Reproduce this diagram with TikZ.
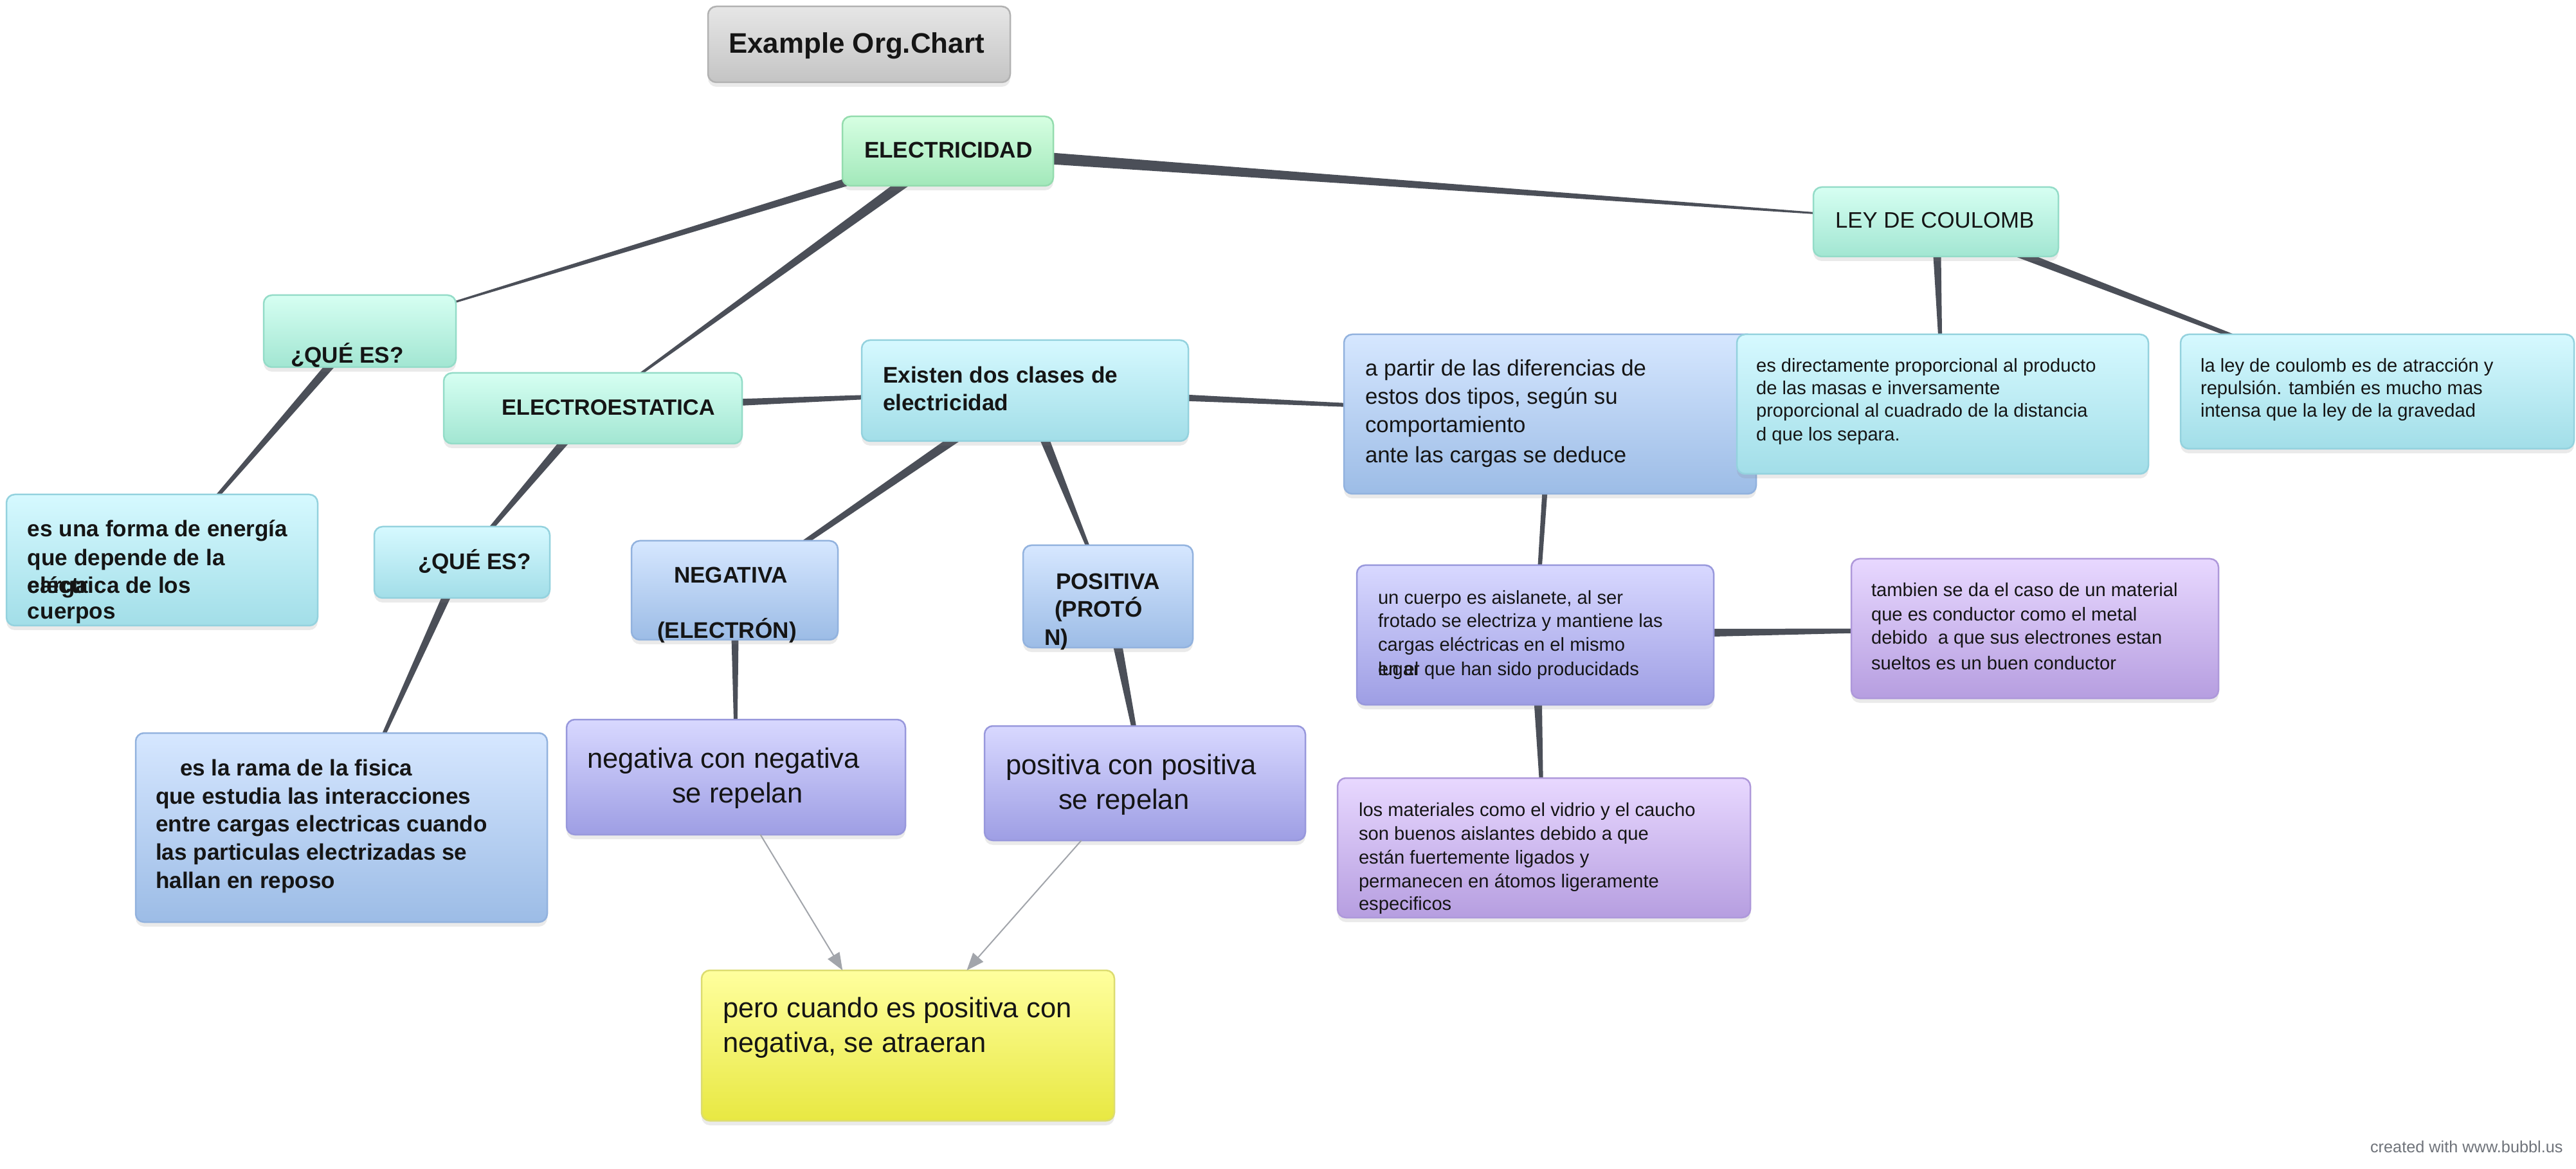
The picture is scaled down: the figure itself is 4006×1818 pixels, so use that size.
\documentclass[tikz,border=0pt]{standalone}
\usepackage{fontspec}
\setmainfont{Liberation Sans}
\usetikzlibrary{calc,fit,shadows,backgrounds,arrows.meta}
\definecolor{conncol}{HTML}{4B4F58}
\definecolor{arrcol}{HTML}{A2A5AB}
\definecolor{grayT}{HTML}{E6E6E6}\definecolor{grayB}{HTML}{C4C4C4}\definecolor{grayD}{HTML}{B2B2B2}
\definecolor{greenT}{HTML}{D6FFE2}\definecolor{greenB}{HTML}{A2E8BA}\definecolor{greenD}{HTML}{94DCAE}
\definecolor{mintT}{HTML}{D6FFF2}\definecolor{mintB}{HTML}{A2E6D2}\definecolor{mintD}{HTML}{94DCC8}
\definecolor{cyanT}{HTML}{D6F9FF}\definecolor{cyanB}{HTML}{A2DEE8}\definecolor{cyanD}{HTML}{94D2DE}
\definecolor{blueT}{HTML}{D6E7FF}\definecolor{blueB}{HTML}{9CBCE6}\definecolor{blueD}{HTML}{92B2DE}
\definecolor{periT}{HTML}{D8D8FF}\definecolor{periB}{HTML}{9E9EE4}\definecolor{periD}{HTML}{9898DC}
\definecolor{purpT}{HTML}{E8D8FF}\definecolor{purpB}{HTML}{B69EE0}\definecolor{purpD}{HTML}{AE98DA}
\definecolor{yelT}{HTML}{FFFF9E}\definecolor{yelB}{HTML}{E8E842}\definecolor{yelD}{HTML}{DCDC70}
\definecolor{txtcol}{HTML}{151515}
\definecolor{credcol}{HTML}{6F737A}
\tikzset{
  box/.style={rectangle, rounded corners=1.3mm, line width=0.25mm, inner sep=0pt, outer sep=0pt,
    drop shadow={shadow xshift=0mm, shadow yshift=-0.7mm, opacity=0.16}},
  graybox/.style={box, draw=grayD, top color=grayT, bottom color=grayB},
  greenbox/.style={box, draw=greenD, top color=greenT, bottom color=greenB},
  mintbox/.style={box, draw=mintD, top color=mintT, bottom color=mintB},
  cyanbox/.style={box, draw=cyanD, top color=cyanT, bottom color=cyanB},
  bluebox/.style={box, draw=blueD, top color=blueT, bottom color=blueB},
  peribox/.style={box, draw=periD, top color=periT, bottom color=periB},
  purpbox/.style={box, draw=purpD, top color=purpT, bottom color=purpB},
  yelbox/.style={box, draw=yelD, top color=yelT, bottom color=yelB},
  txt/.style={inner sep=0pt, outer sep=0pt, anchor=base west, text=txtcol},
  fbA/.style={font=\fontsize{12.5}{15}\selectfont\bfseries},
  fbB/.style={font=\fontsize{10}{12}\selectfont\bfseries},
  fbC/.style={font=\fontsize{9.8}{12}\selectfont\bfseries},
  frB/.style={font=\fontsize{9.9}{12}\selectfont},
  frL/.style={font=\fontsize{12.4}{15}\selectfont},
  frS/.style={font=\fontsize{8.3}{10}\selectfont},
  frT/.style={font=\fontsize{7.2}{9}\selectfont, text=credcol},
  conn/.style={fill=conncol},
  arr/.style={draw=arrcol, line width=0.2mm, -{Triangle[length=2.7mm,width=2.1mm]}}
}
\newcommand\mkbox[4]{\node[#1, fit={(#3) (#4)}] (#2) {};}
\newcommand\mktext[4]{\node[txt,#1] (#2) at (#3) {#4};}
\newcommand\mktaper[4]{\fill[conn] ($(#1.center)!#3!90:(#2.center)$) -- ($(#1.center)!#3!-90:(#2.center)$) -- ($(#2.center)!#4!90:(#1.center)$) -- ($(#2.center)!#4!-90:(#1.center)$) -- cycle;}
\begin{document}
\begin{tikzpicture}[x=0.1mm,y=-0.1mm]
\useasboundingbox (0,0) rectangle (4006,1818);
% boxes
\mkbox{graybox}{title}{1101,10}{1571,128}
\mkbox{greenbox}{elec}{1310,181}{1638,289}
\mkbox{mintbox}{ley}{2820,291}{3201,399}
\mkbox{mintbox}{que1}{410,459}{709,571}
\mkbox{mintbox}{electro}{690,580}{1154,690}
\mkbox{cyanbox}{exist}{1340,529}{1848,686}
\mkbox{bluebox}{apartir}{2090,520}{2731,768}
\mkbox{cyanbox}{directa}{2701,520}{3341,737}
\mkbox{cyanbox}{laley}{3391,520}{4003,698}
\mkbox{cyanbox}{forma}{10,769}{494,973}
\mkbox{cyanbox}{que2}{582,819}{855,930}
\mkbox{bluebox}{neg}{982,841}{1303,995}
\mkbox{bluebox}{pos}{1591,848}{1855,1007}
\mkbox{bluebox}{rama}{211,1140}{851,1434}
\mkbox{peribox}{negneg}{881,1119}{1408,1298}
\mkbox{peribox}{pospos}{1531,1129}{2030,1307}
\mkbox{yelbox}{yellow}{1091,1509}{1733,1743}
\mkbox{peribox}{cuerpo}{2110,879}{2665,1096}
\mkbox{purpbox}{tambien}{2879,869}{3450,1086}
\mkbox{purpbox}{materia}{2080,1210}{2722,1427}
% connectors (behind the boxes)
\begin{scope}[on background layer]
\fill[white] (0,0) rectangle (4006,1818);
\mktaper{elec}{que1}{0.72mm}{0.05mm}
\mktaper{elec}{electro}{0.9mm}{0.09mm}
\mktaper{elec}{ley}{1.0mm}{0.03mm}
\mktaper{que1}{forma}{0.75mm}{0.12mm}
\mktaper{electro}{que2}{0.77mm}{0.22mm}
\mktaper{que2}{rama}{0.74mm}{0.06mm}
\mktaper{electro}{exist}{0.75mm}{0.1mm}
\mktaper{exist}{neg}{0.85mm}{0.25mm}
\mktaper{exist}{pos}{0.9mm}{0.1mm}
\mktaper{exist}{apartir}{0.7mm}{0.04mm}
\mktaper{neg}{negneg}{0.7mm}{0.11mm}
\mktaper{pos}{pospos}{0.9mm}{0.17mm}
\mktaper{apartir}{cuerpo}{0.48mm}{0.25mm}
\mktaper{cuerpo}{tambien}{0.93mm}{0.02mm}
\mktaper{cuerpo}{materia}{0.89mm}{0.02mm}
\mktaper{ley}{directa}{0.73mm}{0.04mm}
\mktaper{ley}{laley}{0.72mm}{0.12mm}
\end{scope}
% arrows
\draw[arr] (negneg.-67) -- (yellow.131);
\draw[arr] (pospos.-138) -- (yellow.52);
% texts
\mktext{fbA}{tTitle}{1133,83}{Example Org.Chart}
\mktext{fbB}{tElec}{1344,246}{ELECTRICIDAD}
\mktext{frB}{tLey}{2854,355}{LEY DE COULOMB}
\mktext{fbB}{tQue1}{452,565}{¿QUÉ ES?}
\mktext{fbC}{tElectro}{780,646}{ELECTROESTATICA}
\mktext{fbB}{tExA}{1373,596}{Existen dos clases de}
\mktext{fbB}{tExB}{1373,639}{electricidad}
\mktext{frB}{tApA}{2123,585}{a partir de las diferencias de}
\mktext{frB}{tApB}{2123,629}{estos dos tipos, según su}
\mktext{frB}{tApC}{2123,673}{comportamiento}
\mktext{frB}{tApD}{2123,720}{ante las cargas se deduce}
\mktext{frS}{tDiA}{2731,579}{es directamente proporcional al producto}
\mktext{frS}{tDiB}{2731,614}{de las masas e inversamente}
\mktext{frS}{tDiC}{2731,649}{proporcional al cuadrado de la distancia}
\mktext{frS}{tDiD}{2731,686}{d que los separa.}
\mktext{frS}{tLlA}{3422,579}{la ley de coulomb es de atracción y}
\mktext{frS}{tLlB}{3422,614}{repulsión. también es mucho mas}
\mktext{frS}{tLlC}{3422,649}{intensa que la ley de la gravedad}
\mktext{fbB}{tFoA}{43,835}{es una forma de energía}
\mktext{fbB}{tFoB}{43,880}{que depende de la}
\mktext{fbB}{tFoC}{43,923}{carga}
\mktext{fbB}{tFoD}{43,923}{eléctrica de los}
\mktext{fbB}{tFoE}{43,963}{cuerpos}
\mktext{fbB}{tQue2}{650,886}{¿QUÉ ES?}
\mktext{fbB}{tNegA}{1048,907}{NEGATIVA}
\mktext{fbB}{tNegB}{1022,993}{(ELECTRÓN)}
\mktext{fbB}{tPosA}{1642,917}{POSITIVA}
\mktext{fbB}{tPosB}{1640,960}{(PROTÓ}
\mktext{fbB}{tPosC}{1624,1003}{N)}
\mktext{fbB}{tRaA}{280,1206}{es la rama de la fisica}
\mktext{fbB}{tRaB}{242,1250}{que estudia las interacciones}
\mktext{fbB}{tRaC}{242,1293}{entre cargas electricas cuando}
\mktext{fbB}{tRaD}{242,1337}{las particulas electrizadas se}
\mktext{fbB}{tRaE}{242,1381}{hallan en reposo}
\mktext{frL}{tNnA}{913,1194}{negativa con negativa}
\mktext{frL}{tNnB}{1045,1248}{se repelan}
\mktext{frL}{tPpA}{1564,1204}{positiva con positiva}
\mktext{frL}{tPpB}{1646,1258}{se repelan}
\mktext{frL}{tYeA}{1124,1582}{pero cuando es positiva con}
\mktext{frL}{tYeB}{1124,1636}{negativa, se atraeran}
\mktext{frS}{tCuA}{2143,940}{un cuerpo es aislanete, al ser}
\mktext{frS}{tCuB}{2143,975}{frotado se electriza y mantiene las}
\mktext{frS}{tCuC}{2143,1012}{cargas eléctricas en el mismo}
\mktext{frS}{tCuD}{2143,1051}{lugar}
\mktext{frS}{tCuE}{2143,1051}{en el}
\mktext{frS}{tCuF}{2215,1051}{que han sido producidads}
\mktext{frS}{tTaA}{2910,928}{tambien se da el caso de un material}
\mktext{frS}{tTaB}{2910,965}{que es conductor como el metal}
\mktext{frS}{tTaC}{2910,1002}{debido\ \ a que sus electrones estan}
\mktext{frS}{tTaD}{2910,1041}{sueltos es un buen conductor}
\mktext{frS}{tMaA}{2113,1269}{los materiales como el vidrio y el caucho}
\mktext{frS}{tMaB}{2113,1306}{son buenos aislantes debido a que}
\mktext{frS}{tMaC}{2113,1343}{están fuertemente ligados y}
\mktext{frS}{tMaD}{2113,1380}{permanecen en átomos ligeramente}
\mktext{frS}{tMaE}{2113,1415}{especificos}
\mktext{frT}{tCred}{3686,1792}{created with www.bubbl.us}
\end{tikzpicture}
\end{document}
